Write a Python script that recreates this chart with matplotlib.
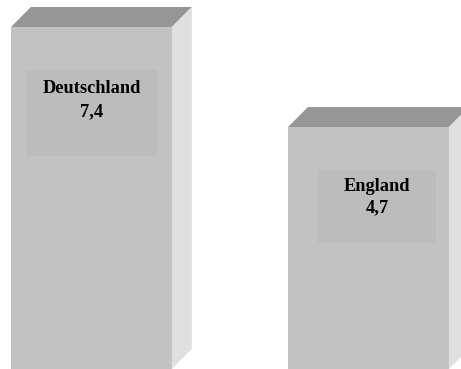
import matplotlib
matplotlib.use('Agg')
import matplotlib.pyplot as plt
from matplotlib.patches import Polygon, Rectangle

# Values per country
countries = ['Deutschland', 'England']
values = [7.4, 4.7]
value_labels = ['7,4', '4,7']

# Colours of the 3D bar faces
front_color = '#c2c2c2'
top_color = '#969696'
side_color = '#e0e0e0'
box_color = '#bcbcbc'

# Layout of the pseudo-3D bars (data units)
bar_width = 0.581
depth_x = 0.072
depth_y = 0.54
base = -1.833

# Label boxes: (x offset from bar centre, half width, y top, y bottom) and text centre y
label_boxes = [(0.0, 0.236, 6.24, 3.92), (0.031, 0.213, 3.54, 1.57)]
text_y = [5.43, 2.81]
text_spacing = [1.45, 1.32]

fig = plt.figure(figsize=(4.61, 3.69), dpi=100)
ax = fig.add_axes([0, 0, 1, 1])
ax.set_xlim(-0.330, 1.334)
ax.set_ylim(base, 8.129)
ax.axis('off')

x = list(range(len(countries)))
bars = ax.bar(x, [v - base for v in values], bottom=base, width=bar_width,
              color=front_color, edgecolor='none', zorder=2)

for xi, v in zip(x, values):
    xl = xi - bar_width / 2
    xr = xi + bar_width / 2
    top = Polygon([(xl, v), (xl + depth_x, v + depth_y), (xr + depth_x, v + depth_y), (xr, v)],
                  closed=True, facecolor=top_color, edgecolor='none', zorder=2)
    side = Polygon([(xr, base), (xr + depth_x, base + depth_y), (xr + depth_x, v + depth_y), (xr, v)],
                   closed=True, facecolor=side_color, edgecolor='none', zorder=2)
    ax.add_patch(top)
    ax.add_patch(side)

for xi, name, lab, (off, hw, yt, yb), ty, ls in zip(x, countries, value_labels,
                                                    label_boxes, text_y, text_spacing):
    ax.add_patch(Rectangle((xi + off - hw, yb), 2 * hw, yt - yb,
                           facecolor=box_color, edgecolor='none', zorder=3))
    ax.text(xi + off, ty, f'{name}\n{lab}', ha='center', va='center',
            fontsize=13.2, fontweight='bold', family='Liberation Serif',
            linespacing=ls, zorder=4)

fig.savefig('out.png', dpi=100)
